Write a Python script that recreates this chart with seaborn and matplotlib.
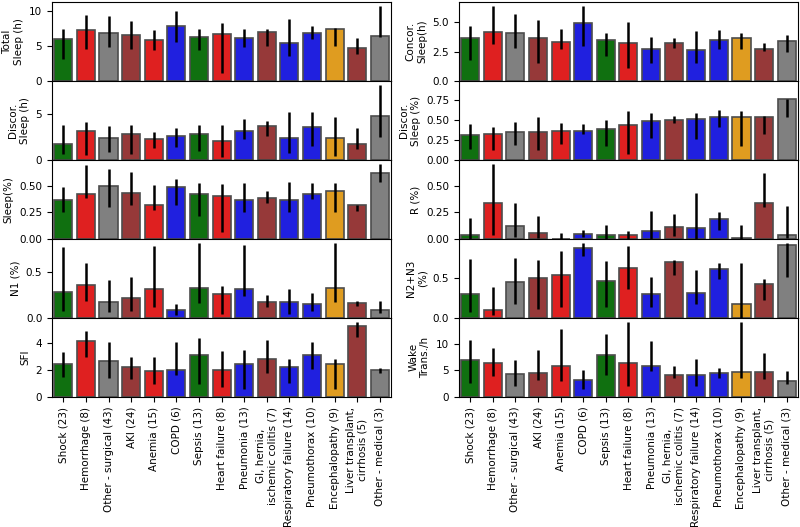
"""
Sleep metrics by admission diagnosis (bar + error bars).
"""
import numpy as np
import matplotlib
matplotlib.use("Agg")
import matplotlib.pyplot as plt
from matplotlib.ticker import MultipleLocator
import seaborn as sns

categories = ["Shock (23)", "Hemorrhage (8)", "Other - surgical (43)", "AKI (24)",
              "Anemia (15)", "COPD (6)", "Sepsis (13)", "Heart failure (8)",
              "Pneumonia (13)", "GI, hernia,\nischemic colitis (7)",
              "Respiratory failure (14)", "Pneumothorax (10)", "Encephalopathy (9)",
              "Liver transplant,\ncirrhosis (5)", "Other - medical (3)"]
colors = ["green", "red", "gray", "brown", "red", "blue", "green", "red", "blue",
          "brown", "blue", "blue", "orange", "brown", "gray"]

# left column
total_sleep = [5.98, 7.3, 6.8, 6.6, 5.8, 7.8, 6.2, 6.7, 6.1, 7.0, 5.45, 6.9, 7.4, 4.7, 6.4]
total_sleep_lo = [3.1, 4.6, 4.9, 4.5, 4.4, 5.5, 4.4, 1.2, 4.9, 5.0, 3.6, 6.0, 5.0, 3.8, 6.3]
total_sleep_hi = [7.4, 9.4, 9.2, 8.6, 7.3, 9.9, 7.4, 8.2, 7.4, 7.4, 8.9, 7.8, 7.6, 6.1, 10.7]

discor_h = [1.75, 3.2, 2.37, 2.85, 2.33, 2.63, 2.85, 2.04, 3.14, 3.76, 2.37, 3.65, 2.37, 1.75, 4.8]
discor_h_lo = [0.66, 0.55, 0.9, 0.6, 1.35, 1.42, 1.0, 0.36, 2.33, 2.63, 0.8, 1.53, 0.44, 1.24, 2.48]
discor_h_hi = [3.8, 4.1, 3.7, 3.8, 3.07, 3.5, 3.8, 3.8, 4.5, 4.23, 5.26, 5.26, 4.67, 3.5, 8.2]

sleep_pct = [0.37, 0.42, 0.50, 0.43, 0.32, 0.49, 0.42, 0.41, 0.37, 0.39, 0.37, 0.42, 0.45, 0.32, 0.62]
sleep_pct_lo = [0.25, 0.39, 0.30, 0.32, 0.27, 0.32, 0.22, 0.07, 0.25, 0.34, 0.25, 0.38, 0.25, 0.26, 0.54]
sleep_pct_hi = [0.49, 0.70, 0.66, 0.63, 0.51, 0.57, 0.525, 0.515, 0.525, 0.455, 0.54, 0.525, 0.525, 0.325, 0.71]

n1 = [0.28, 0.36, 0.17, 0.22, 0.31, 0.09, 0.33, 0.26, 0.31, 0.17, 0.175, 0.15, 0.33, 0.157, 0.088]
n1_lo = [0.07, 0.18, 0.06, 0.08, 0.12, 0.036, 0.16, 0.04, 0.24, 0.12, 0.04, 0.08, 0.17, 0.135, 0.05]
n1_hi = [0.77, 0.60, 0.41, 0.45, 0.78, 0.146, 0.82, 0.35, 0.80, 0.245, 0.31, 0.27, 0.82, 0.186, 0.18]

sfi = [2.43, 4.12, 2.7, 2.2, 1.91, 2.01, 3.13, 2.01, 2.43, 2.8, 2.2, 3.13, 2.43, 5.24, 2.01]
sfi_lo = [1.5, 2.93, 1.42, 1.32, 0.92, 1.66, 0.94, 0.7, 0.6, 1.74, 1.04, 2.06, 0.6, 4.42, 1.79]
sfi_hi = [3.35, 4.87, 4.07, 2.96, 2.98, 4.07, 4.4, 3.38, 3.45, 4.2, 2.78, 4.07, 2.78, 5.59, 2.11]

# right column
concor_h = [3.69, 4.2, 4.12, 3.69, 3.32, 4.91, 3.52, 3.21, 2.73, 3.21, 2.61, 3.52, 3.69, 2.73, 3.44]
concor_h_lo = [1.76, 3.18, 2.81, 1.56, 2.7, 3.01, 2.13, 1.14, 1.56, 2.81, 1.56, 2.7, 2.7, 2.59, 2.5]
concor_h_hi = [4.69, 6.39, 5.68, 5.17, 4.46, 6.39, 4.09, 5.0, 3.78, 3.69, 4.29, 4.37, 4.06, 3.27, 3.89]

discor_pct = [0.316, 0.325, 0.346, 0.354, 0.363, 0.363, 0.384, 0.435, 0.494, 0.506, 0.515, 0.536, 0.544, 0.544, 0.76]
discor_pct_lo = [0.14, 0.13, 0.19, 0.13, 0.2, 0.33, 0.18, 0.08, 0.28, 0.46, 0.26, 0.41, 0.18, 0.32, 0.535]
discor_pct_hi = [0.45, 0.42, 0.48, 0.54, 0.46, 0.45, 0.50, 0.61, 0.59, 0.55, 0.59, 0.63, 0.62, 0.55, 0.76]

rem = [0.04, 0.34, 0.12, 0.06, 0.0, 0.05, 0.04, 0.04, 0.07, 0.11, 0.10, 0.19, 0.012, 0.34, 0.04]
rem_lo = [0.0, 0.04, 0.02, 0.005, 0.0, 0.02, 0.0, 0.0, 0.0, 0.03, 0.0, 0.08, 0.0, 0.30, 0.01]
rem_hi = [0.2, 0.706, 0.34, 0.22, 0.053, 0.085, 0.13, 0.075, 0.26, 0.23, 0.43, 0.25, 0.13, 0.62, 0.31]

n2n3 = [0.30, 0.097, 0.45, 0.5, 0.54, 0.88, 0.47, 0.63, 0.30, 0.71, 0.31, 0.62, 0.18, 0.43, 0.916]
n2n3_lo = [0.07, 0.04, 0.18, 0.11, 0.14, 0.78, 0.14, 0.36, 0.14, 0.54, 0.18, 0.49, 0.0, 0.22, 0.52]
n2n3_hi = [0.74, 0.39, 0.76, 0.73, 0.84, 0.94, 0.72, 0.91, 0.52, 0.735, 0.6, 0.69, 0.69, 0.49, 0.95]

wake = [7.04, 6.4, 4.34, 4.47, 5.85, 3.27, 7.9, 6.4, 5.85, 4.15, 4.15, 4.47, 4.78, 4.7, 3.08]
wake_lo = [2.6, 3.9, 2.1, 3.2, 3.0, 1.4, 4.1, 2.0, 4.9, 3.65, 2.0, 3.65, 3.65, 3.3, 2.4]
wake_hi = [10.8, 9.2, 7.0, 8.9, 12.8, 5.1, 11.8, 14.2, 10.6, 5.8, 7.2, 5.5, 14.2, 8.2, 4.8]

# (label, values, lower, upper, y tick step)
left_panels = [
    ("Total\nSleep (h)", total_sleep, total_sleep_lo, total_sleep_hi, 5),
    ("Discor.\nSleep (h)", discor_h, discor_h_lo, discor_h_hi, 5),
    ("Sleep(%)", sleep_pct, sleep_pct_lo, sleep_pct_hi, 0.25),
    ("N1 (%)", n1, n1_lo, n1_hi, 0.5),
    ("SFI", sfi, sfi_lo, sfi_hi, 2),
]
right_panels = [
    ("Concor.\nSleep(h)", concor_h, concor_h_lo, concor_h_hi, 2.5),
    ("Discor.\nSleep (%)", discor_pct, discor_pct_lo, discor_pct_hi, 0.25),
    ("R (%)", rem, rem_lo, rem_hi, 0.25),
    ("N2+N3\n(%)", n2n3, n2n3_lo, n2n3_hi, 0.5),
    ("Wake\nTrans./h", wake, wake_lo, wake_hi, 5),
]

plt.rcParams.update({'font.size': 7.5, 'font.family': ['DejaVu Sans']})

fig, axes = plt.subplots(5, 2, figsize=(8, 5.27), dpi=100, sharex=True)
fig.subplots_adjust(left=0.065, right=0.9975, top=0.996, bottom=0.247,
                    hspace=0, wspace=0.2)

for col, panels in enumerate([left_panels, right_panels]):
    for row, (label, vals, lo, hi, step) in enumerate(panels):
        ax = axes[row, col]
        sns.barplot(x=categories, y=vals, hue=categories, palette=colors,
                    legend=False, errorbar=None, edgecolor="0.3",
                    linewidth=1.2, ax=ax)
        vals = np.array(vals)
        ax.errorbar(np.arange(len(categories)), vals,
                    yerr=[vals - np.array(lo), np.array(hi) - vals],
                    fmt="none", ecolor="black", elinewidth=1.8, capsize=0)
        ax.set_ylabel(label)
        ax.set_xlim(-0.5, len(categories) - 0.5)
        ax.yaxis.set_major_locator(MultipleLocator(step))

# panel with extra headroom in the original
axes[1, 1].set_ylim(0, 0.99)

for ax in axes[-1]:
    ax.tick_params(axis="x", rotation=90)

plt.savefig("out.png", dpi=100)
plt.close()
